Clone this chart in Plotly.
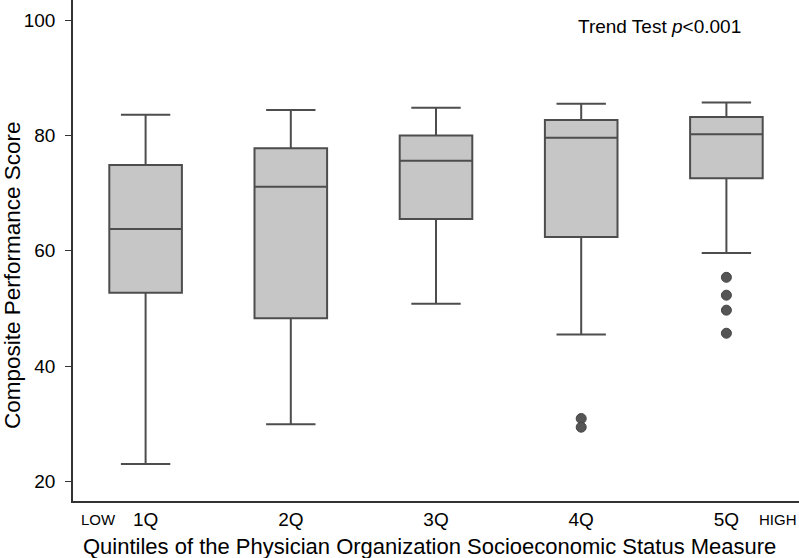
import plotly.graph_objects as go

categories = ["1Q", "2Q", "3Q", "4Q", "5Q"]
lower_whisker = [23.0, 29.9, 50.8, 45.5, 59.6]
q1_vals = [52.7, 48.3, 65.5, 62.4, 72.6]
medians = [63.8, 71.1, 75.6, 79.6, 80.2]
q3_vals = [74.9, 77.8, 80.0, 82.7, 83.2]
upper_whisker = [83.6, 84.4, 84.8, 85.5, 85.7]

outlier_cats = ["4Q", "4Q", "5Q", "5Q", "5Q", "5Q"]
outlier_vals = [30.9, 29.4, 55.4, 52.3, 49.7, 45.7]

FONT = "Liberation Sans, Arial, sans-serif"

fig = go.Figure()
fig.add_trace(go.Box(
    x=categories,
    q1=q1_vals, median=medians, q3=q3_vals,
    lowerfence=lower_whisker, upperfence=upper_whisker,
    fillcolor="#c6c6c6",
    line=dict(color="#4d4d4d", width=2),
    whiskerwidth=0.68,
    width=0.5,
    boxpoints=False,
    showlegend=False,
    hoverinfo="skip",
))
fig.add_trace(go.Scatter(
    x=outlier_cats, y=outlier_vals, mode="markers",
    marker=dict(color="#555555", size=10, line=dict(color="#444444", width=1)),
    showlegend=False, hoverinfo="skip",
))

fig.update_layout(
    width=799, height=558,
    margin=dict(l=73, r=0, t=0, b=57, autoexpand=False),
    paper_bgcolor="white", plot_bgcolor="white",
    font=dict(family=FONT, color="black", size=19),
    xaxis=dict(
        type="category",
        range=[-0.5, 4.5],
        automargin=False,
        showline=True, linecolor="#333333", linewidth=1.5,
        ticks="", showgrid=False, zeroline=False,
        tickfont=dict(size=19),
        ticklabelstandoff=0,
    ),
    yaxis=dict(
        range=[16.6, 103.5],
        automargin=False,
        tickvals=[20, 40, 60, 80, 100],
        showline=True, linecolor="#333333", linewidth=1.5,
        ticks="outside", ticklen=6, tickcolor="#333333",
        showgrid=False, zeroline=False,
        tickfont=dict(size=19),
        ticklabelstandoff=6,
    ),
    annotations=[
        dict(text="Trend Test <i>p</i><0.001", x=0.808, y=0.948, xref="paper", yref="paper",
             showarrow=False, font=dict(size=19), xanchor="center", yanchor="middle"),
        dict(text="LOW", x=0.0358, y=-0.036, xref="paper", yref="paper", showarrow=False,
             font=dict(size=15), xanchor="center", yanchor="middle"),
        dict(text="HIGH", x=0.971, y=-0.036, xref="paper", yref="paper", showarrow=False,
             font=dict(size=15), xanchor="center", yanchor="middle"),
        dict(text="Quintiles of the Physician Organization Socioeconomic Status Measure",
             x=0.4917, y=-0.0915, xref="paper", yref="paper", showarrow=False,
             font=dict(size=22), xanchor="center", yanchor="middle"),
        dict(text="Composite Performance Score", textangle=-90,
             x=-0.084, y=0.451, xref="paper", yref="paper", showarrow=False,
             font=dict(size=22.5), xanchor="center", yanchor="middle"),
    ],
)

fig.write_html("out.html", config={"displayModeBar": False},
               post_script="document.body.style.margin='0';document.body.style.overflow='hidden';")
